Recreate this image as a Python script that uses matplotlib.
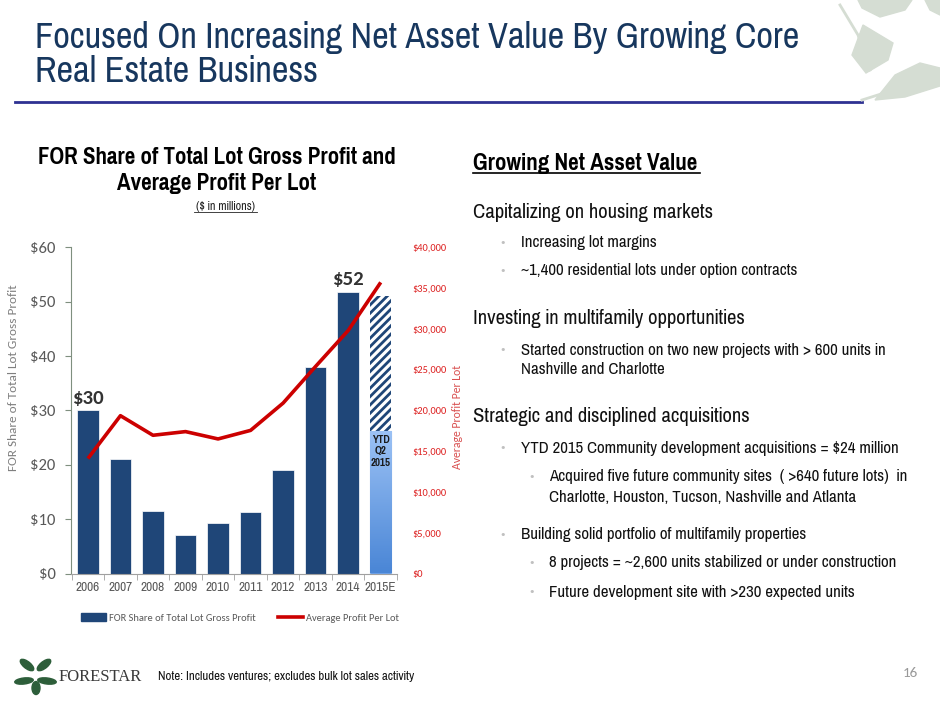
import numpy as np
import matplotlib.pyplot as plt
from matplotlib.patches import Ellipse, Polygon, Patch
from matplotlib.lines import Line2D
from matplotlib.colors import LinearSegmentedColormap

# data
years = ['2006', '2007', '2008', '2009', '2010', '2011', '2012', '2013', '2014', '2015E']
gross_profit = [30, 21.1, 11.5, 7.1, 9.2, 11.4, 19.0, 38.0, 51.8, 51.0]
ytd_2015 = 26.2
profit_per_lot = [14100, 19350, 16950, 17400, 16500, 17550, 20900, 25400, 29800, 35700]
left_ticks = [0, 10, 20, 30, 40, 50, 60]
right_ticks = [0, 5000, 10000, 15000, 20000, 25000, 30000, 35000, 40000]

BAR = '#1f4678'
RED = '#cc0000'
GRAY = '#595959'
NARROW = ['Pragati Narrow', 'Roboto Condensed', 'Archivo Narrow', 'DejaVu Sans']
CAL = ['Carlito', 'Lato', 'DejaVu Sans']

W, H = 940, 705
fig = plt.figure(figsize=(9.4, 7.05), dpi=100)


def px(x, y):
    return x / W, 1 - y / H


# slide title
fig.text(*px(35, 37), 'Focused On Increasing Net Asset Value By Growing Core',
         fontsize=28.5, color='#17375e', family=NARROW, va='center', ha='left')
fig.text(*px(35, 71), 'Real Estate Business',
         fontsize=28.5, color='#17375e', family=NARROW, va='center', ha='left')
fig.add_artist(Line2D([15 / W, 862 / W], [1 - 102 / H] * 2, color='#2e3192', lw=2))

# decorative leaves top right
leaf = '#d5ddd3'
leaves = [
    [(858, 0), (912, 0), (905, 10), (880, 17), (862, 8)],
    [(925, 0), (940, 0), (940, 15), (930, 10)],
    [(863, 25), (893, 43), (888, 60), (866, 73), (852, 55)],
    [(875, 100), (895, 75), (920, 63), (940, 68), (940, 86), (905, 97)],
]
for pts in leaves:
    fig.add_artist(Polygon([px(a, b) for a, b in pts], closed=True, color=leaf,
                           transform=fig.transFigure))
fig.add_artist(Line2D([px(840, 5)[0], px(858, 35)[0], px(870, 70)[0]],
                      [px(840, 5)[1], px(858, 35)[1], px(870, 70)[1]], color=leaf, lw=2))
fig.add_artist(Line2D([px(862, 100)[0], px(900, 88)[0], px(935, 78)[0]],
                      [px(862, 100)[1], px(900, 88)[1], px(935, 78)[1]], color=leaf, lw=2))

# chart title
fig.text(*px(217, 157), 'FOR Share of Total Lot Gross Profit and', fontsize=18, fontweight='bold',
         family=NARROW, ha='center', va='center')
fig.text(*px(217, 183), 'Average Profit Per Lot', fontsize=18, fontweight='bold',
         family=NARROW, ha='center', va='center')
fig.text(*px(225, 206), '($ in millions)', fontsize=9.5, style='italic', family=NARROW,
         ha='center', va='center', color='#222222')
fig.add_artist(Line2D([194 / W, 257 / W], [1 - 212 / H] * 2, color='#222222', lw=0.6))

# chart
ax = fig.add_axes([71 / W, 1 - 573.5 / H, 326 / W, 326.2 / H])
x = np.arange(len(years))
ax.bar(x[:-1], gross_profit[:-1], width=0.66, color=BAR, edgecolor='white', linewidth=0.5, zorder=2)

# 2015E: hatched estimate on top, gradient YTD bar below
plt.rcParams['hatch.linewidth'] = 2.0
ax.bar(x[-1], gross_profit[-1] - ytd_2015, bottom=ytd_2015, width=0.66, color='white',
       edgecolor=BAR, hatch='////', linewidth=0, zorder=2)
ytd_bar = ax.bar(x[-1], ytd_2015, width=0.66, color='#6a9ee6', edgecolor='#8fb3e0',
                 linewidth=0.8, zorder=3)[0]
grad = np.linspace(0, 1, 100).reshape(-1, 1)
im = ax.imshow(grad, extent=[x[-1] - 0.33, x[-1] + 0.33, 0, ytd_2015], aspect='auto',
               cmap=LinearSegmentedColormap.from_list('g', ['#4a86d6', '#9cc2f5']),
               origin='lower', zorder=3.5)
im.set_clip_path(ytd_bar)
ax.text(x[-1], ytd_2015 - 0.7, 'YTD\nQ2\n2015', ha='center', va='top', fontsize=8.5,
        fontweight='bold', color='#1a1a1a', family=NARROW, zorder=5, linespacing=1.2)

ax.text(x[0], gross_profit[0] + 0.7, '$30', ha='center', va='bottom', fontsize=15,
        fontweight='bold', color='#333333', family=CAL)
ax.text(x[8], gross_profit[8] + 0.7, '$52', ha='center', va='bottom', fontsize=15,
        fontweight='bold', color='#333333', family=CAL)

ax.set_xlim(-0.52, 9.5)
ax.set_ylim(0, 60)
ax.set_yticks(left_ticks)
ax.set_yticklabels(['$' + str(v) for v in left_ticks], fontsize=12, color=GRAY, family=CAL)
ax.set_xticks(x)
ax.set_xticklabels(years, fontsize=10.5, color=GRAY, family=NARROW)
ax.set_xticks(np.arange(-0.5, 10, 1), minor=True)
ax.tick_params(axis='x', which='major', length=0, pad=6)
ax.tick_params(axis='x', which='minor', length=4, color='#a0a0a0')
ax.tick_params(axis='y', length=4, color='#7f8f7f', pad=7)
for s in ['top', 'right']:
    ax.spines[s].set_visible(False)
ax.spines['left'].set_color('#7f8f7f')
ax.spines['bottom'].set_color('#a0a0a0')
ax.set_ylabel('FOR Share of Total Lot Gross Profit', fontsize=9.5, color='#7f7f7f', family=CAL)
ax.yaxis.set_label_coords(-0.16, 0.6)
ax.patch.set_alpha(0)

ax2 = ax.twinx()
ax2.plot(x, profit_per_lot, color=RED, lw=2.6, solid_capstyle='butt', zorder=6)
ax2.set_ylim(0, 40000)
ax2.set_yticks(right_ticks)
ax2.set_yticklabels(['${:,}'.format(v) for v in right_ticks], fontsize=7.5, color='#dd2222', family=CAL)
ax2.tick_params(axis='y', length=0, pad=11)
for s in ax2.spines.values():
    s.set_visible(False)
ax2.set_ylabel('Average Profit Per Lot', fontsize=8.5, color='#d95050', family=CAL)
ax2.yaxis.set_label_coords(1.17, 0.48)

# legend
handles = [Patch(color=BAR), Line2D([], [], color=RED, lw=2.6)]
fig.legend(handles, ['FOR Share of Total Lot Gross Profit', 'Average Profit Per Lot'],
           loc='center', bbox_to_anchor=px(240, 618), ncol=2, frameon=False,
           labelcolor=GRAY, prop={'family': CAL, 'size': 7.5}, handlelength=2.4,
           columnspacing=2.2, handletextpad=0.3)

# right side text
fig.text(*px(473, 163), 'Growing Net Asset Value', fontsize=18, fontweight='bold', family=NARROW,
         va='center', ha='left')
fig.add_artist(Line2D([473 / W, 700 / W], [1 - 173 / H] * 2, color='black', lw=1.2))

heads = [('Capitalizing on housing markets', 213), ('Investing in multifamily opportunities', 319),
         ('Strategic and disciplined acquisitions', 417)]
for t, y in heads:
    fig.text(*px(473, y), t, fontsize=16.2, family=NARROW, va='center', ha='left', color='#111111')

# (level, text, y, has bullet)
bullets = [
    (0, 'Increasing lot margins', 243, True),
    (0, '~1,400 residential lots under option contracts', 271, True),
    (0, 'Started construction on two new projects with > 600 units in', 350, True),
    (0, 'Nashville and Charlotte', 370, False),
    (0, 'YTD 2015 Community development acquisitions = $24 million', 448, True),
    (1, 'Acquired five future community sites  ( >640 future lots)  in', 477, True),
    (1, 'Charlotte, Houston, Tucson, Nashville and Atlanta', 497, False),
    (0, 'Building solid portfolio of multifamily properties', 535, True),
    (1, '8 projects = ~2,600 units stabilized or under construction', 563, True),
    (1, 'Future development site with >230 expected units', 592, True),
]
for lvl, t, y, dot in bullets:
    if dot:
        fig.text(*px(503 + lvl * 29, y), '•', fontsize=8, color='#c0c0c0', va='center',
                 ha='center', family='DejaVu Sans')
    fig.text(*px(521 + lvl * 28, y), t, fontsize=13.2, family=NARROW, va='center', ha='left',
             color='#111111')

# footer logo and note
for (cx, cy, w, h, ang) in [(27, 665, 8, 14, 40), (44, 665, 8, 14, -40), (47, 681, 8, 14, -100),
                            (24, 681, 8, 14, 100), (36, 688, 8, 13, 0)]:
    fig.add_artist(Ellipse(px(cx, cy), w / W, h / H, angle=ang, color='#2d5e3a',
                           transform=fig.transFigure))
fig.text(*px(59, 677), 'FORESTAR', fontsize=12, family=['Liberation Serif', 'DejaVu Serif'],
         color='#3a3a3a', va='center', ha='left')
fig.text(*px(158, 677), 'Note: Includes ventures; excludes bulk lot sales activity', fontsize=10,
         family=NARROW, va='center', ha='left', color='#111111')
fig.text(*px(918, 673), '16', fontsize=11, family=CAL, color='#999999', va='center', ha='right')

fig.savefig('out.png', dpi=100)
